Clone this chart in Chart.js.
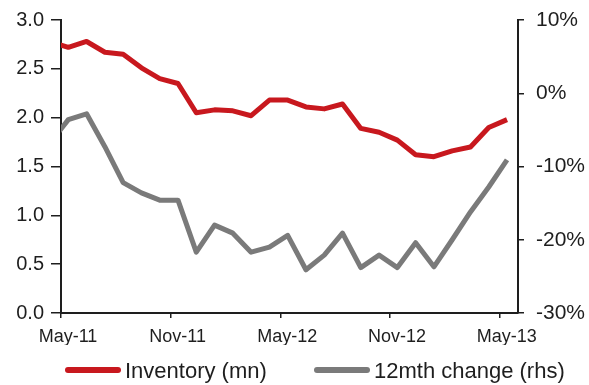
<!DOCTYPE html>
<html>
<head>
<meta charset="utf-8">
<script src="https://cdn.jsdelivr.net/npm/chart.js@4/dist/chart.umd.min.js"></script>
<style>
  html, body { margin: 0; padding: 0; background: #fff; }
  #wrap { width: 589px; height: 385px; }
</style>
</head>
<body>
<div id="wrap"><canvas id="inventoryChart" width="589" height="385"></canvas></div>
<script>
// Monthly series; Apr-11 is only there so the lines run in from the axis
const months = ['Apr-11', 'May-11', 'Jun-11', 'Jul-11', 'Aug-11', 'Sep-11', 'Oct-11', 'Nov-11', 'Dec-11',
    'Jan-12', 'Feb-12', 'Mar-12', 'Apr-12', 'May-12', 'Jun-12', 'Jul-12', 'Aug-12', 'Sep-12', 'Oct-12',
    'Nov-12', 'Dec-12', 'Jan-13', 'Feb-13', 'Mar-13', 'Apr-13', 'May-13'];
const inventory = [2.78, 2.72, 2.78, 2.67, 2.65, 2.51, 2.40, 2.35, 2.05, 2.08, 2.07, 2.02, 2.18,
    2.18, 2.11, 2.09, 2.14, 1.89, 1.85, 1.77, 1.62, 1.60, 1.66, 1.70, 1.90, 1.98];
const change12m = [-6.8, -3.6, -2.8, -7.3, -12.2, -13.6, -14.6, -14.6, -21.7, -18.0, -19.1, -21.7, -21.0,
    -19.4, -24.1, -22.1, -19.1, -23.8, -22.1, -23.8, -20.4, -23.7, -20.0, -16.2, -12.8, -9.1];
const tickLabels = ['May-11', 'Nov-11', 'May-12', 'Nov-12', 'May-13'];

const FONT = '"Liberation Sans", Arial, Helvetica, sans-serif';
const INK = '#1e1e1e';
const RED = '#c8181e';
const GREY = '#7a7a7a';
const MID_MONTH = 0.4; // points sit a little after the month tick

// x is months counted from May-11
const toPoints = (vals) => vals.map((v, i) => ({ x: i - 1 + MID_MONTH, y: v }));

// no label overflow padding, so the plot box is set by layout alone
const noOverflow = (scale) => {
    scale.paddingTop = 0; scale.paddingBottom = 0;
    scale.paddingLeft = 0; scale.paddingRight = 0;
};

const lineLegend = {
    id: 'lineLegend',
    afterDraw(chart) {
        const ctx = chart.ctx;
        const slots = [66, 315];
        const y = 370;
        chart.data.datasets.forEach((ds, i) => {
            const x = slots[i];
            ctx.save();
            ctx.strokeStyle = ds.borderColor;
            ctx.lineWidth = 6;
            ctx.lineCap = 'round';
            ctx.beginPath();
            ctx.moveTo(x + 2, y);
            ctx.lineTo(x + 52, y);
            ctx.stroke();
            ctx.fillStyle = INK;
            ctx.font = '22px ' + FONT;
            ctx.textBaseline = 'alphabetic';
            ctx.fillText(ds.label, x + 59, y + 8);
            ctx.restore();
        });
    }
};

new Chart(document.getElementById('inventoryChart'), {
    type: 'line',
    data: {
        datasets: [{
            label: 'Inventory (mn)',
            data: toPoints(inventory),
            yAxisID: 'y',
            borderColor: RED,
            borderWidth: 5
        }, {
            label: '12mth change (rhs)',
            data: toPoints(change12m),
            yAxisID: 'y1',
            borderColor: GREY,
            borderWidth: 5
        }]
    },
    options: {
        responsive: false,
        devicePixelRatio: 1,
        animation: false,
        layout: { padding: { top: 20, left: 0, right: 0, bottom: 40 } },
        elements: {
            point: { radius: 0 },
            line: { tension: 0, borderJoinStyle: 'round', borderCapStyle: 'butt' }
        },
        datasets: { line: { clip: 0 } },
        plugins: { legend: { display: false }, tooltip: { enabled: false } },
        scales: {
            x: {
                type: 'linear',
                min: 0,
                max: 25,
                afterBuildTicks: (scale) => {
                    scale.ticks = tickLabels.map((_, i) => ({ value: i * 6 }));
                },
                afterFit: (scale) => { scale.height = 32; noOverflow(scale); },
                ticks: {
                    autoSkip: false,
                    maxRotation: 0,
                    padding: 8,
                    labelOffset: 7,
                    color: INK,
                    font: { family: FONT, size: 18 },
                    callback: (v, i) => tickLabels[i]
                },
                grid: { drawOnChartArea: false, tickLength: 5, color: INK, lineWidth: 1.5 },
                border: { display: true, color: INK, width: 2 }
            },
            y: {
                position: 'left',
                min: 0,
                max: 3,
                afterFit: (scale) => { scale.width = 61; noOverflow(scale); },
                ticks: {
                    stepSize: 0.5,
                    padding: 7,
                    color: INK,
                    font: { family: FONT, size: 20 },
                    callback: (v) => v.toFixed(1)
                },
                grid: { drawOnChartArea: false, tickLength: 10, color: INK, lineWidth: 1.5 },
                border: { display: true, color: INK, width: 2 }
            },
            y1: {
                position: 'right',
                min: -30,
                max: 10,
                afterFit: (scale) => { scale.width = 71; noOverflow(scale); },
                ticks: {
                    stepSize: 10,
                    padding: 12,
                    color: INK,
                    font: { family: FONT, size: 21 },
                    callback: (v) => v + '%'
                },
                grid: { drawOnChartArea: false, tickLength: 6, color: INK, lineWidth: 1.5 },
                border: { display: true, color: INK, width: 2 }
            }
        }
    },
    plugins: [lineLegend]
});
</script>
</body>
</html>
